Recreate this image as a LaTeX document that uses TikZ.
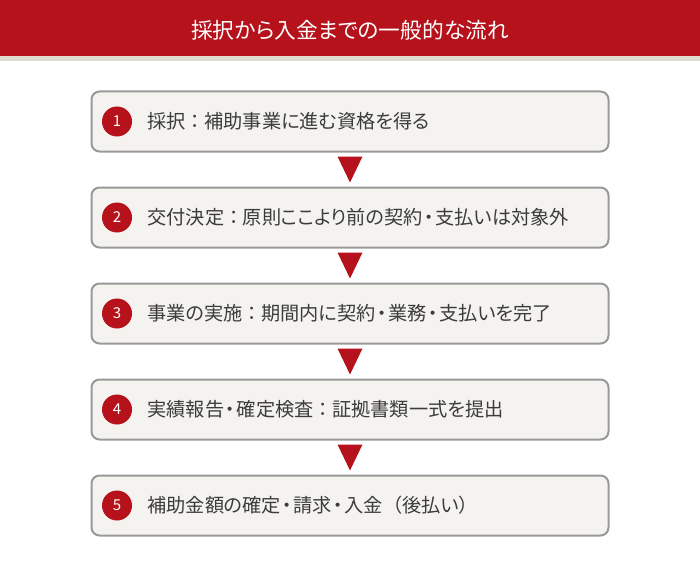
\documentclass[tikz,border=0pt]{standalone}
\usepackage{fontspec}
\setmainfont[RawFeature=+palt]{Noto Sans CJK JP}
\newfontfamily\fullwidth{Noto Sans CJK JP}
\usetikzlibrary{positioning}
\definecolor{hdred}{HTML}{B5121B}
\definecolor{hdline}{HTML}{DEDBD0}
\definecolor{boxfill}{HTML}{F4F3EF}
\definecolor{boxgray}{HTML}{999999}
\definecolor{txtgray}{HTML}{3C3C3C}
\newcommand{\colsep}{\hspace{5pt}：\hspace{4pt}}
\newcommand{\middot}{\hspace{1.5pt}・\hspace{1.5pt}}

\begin{document}
\begin{tikzpicture}[x=1pt,y=1pt,
  stepbox/.style={draw=boxgray,line width=2pt,fill=boxfill,rounded corners=8pt,
    minimum width=517pt,minimum height=60pt,inner sep=0pt},
  num/.style={circle,fill=hdred,text=white,minimum size=30pt,inner sep=0pt,
    font=\fontsize{15}{15}\selectfont},
  steptext/.style={right=15pt,text=txtgray,inner sep=0pt,font=\fontsize{19.2}{20}\selectfont}
]
\useasboundingbox (0,0) rectangle (700,566);
% header
\fill[hdred] (0,510) rectangle (700,566);
\fill[hdline] (0,505) rectangle (700,510);
\node[text=white,font=\fontsize{21.7}{22}\selectfont] (title) at (350,536) {採択から入金までの一般的な流れ};

% steps
\node[stepbox] (s1) at (350,444.5) {};
\node[stepbox,below=34pt of s1] (s2) {};
\node[stepbox,below=34pt of s2] (s3) {};
\node[stepbox,below=34pt of s3] (s4) {};
\node[stepbox,below=34pt of s4] (s5) {};

\foreach \i/\t in {1/採択\colsep 補助事業に進む資格を得る,
                   2/交付決定\colsep 原則ここより前の契約\middot 支払いは対象外,
                   3/事業の実施\colsep 期間内に契約\middot 業務\middot 支払いを完了,
                   4/実績報告\middot 確定検査\colsep 証拠書類一式を提出,
                   5/補助金額の確定\middot 請求\middot 入金{\fullwidth （}後払い{\fullwidth ）}}{
  \node[num] (n\i) at ([xshift=26.5pt]s\i.west) {\i};
  \node[steptext] (t\i) at (n\i.east) {\t};
}

% arrows
\foreach \i [count=\j from 2] in {1,...,4}
  \fill[hdred] ([shift={(-12.5pt,-4pt)}]s\i.south) -- ([shift={(12.5pt,-4pt)}]s\i.south)
    -- ([yshift=4pt]s\j.north) -- cycle;
\end{tikzpicture}
\end{document}
